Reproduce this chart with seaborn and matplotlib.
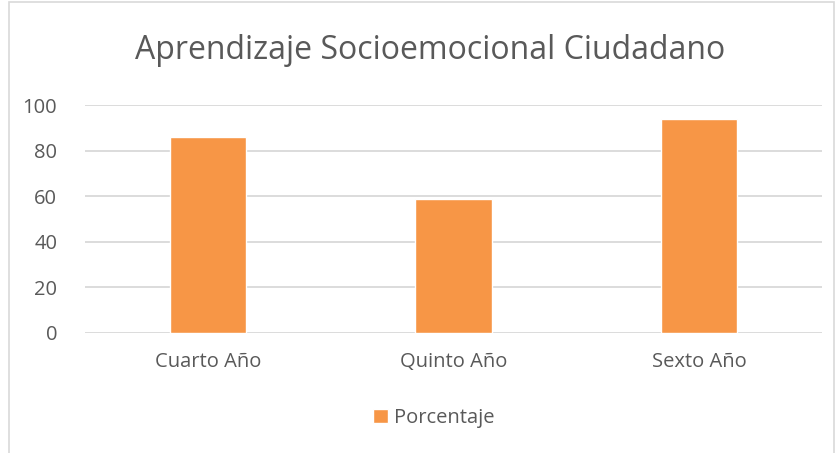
import matplotlib
matplotlib.use("Agg")
import matplotlib.pyplot as plt
import seaborn as sns
import pandas as pd
from matplotlib.patches import Rectangle, Patch

# data
categorias = ["Cuarto Año", "Quinto Año", "Sexto Año"]
porcentaje = [86, 59, 94]
serie = "Porcentaje"

df = pd.DataFrame({"Año": categorias, serie: porcentaje})

sns.set_theme(style="white")
plt.rcParams["font.family"] = ["Open Sans", "DejaVu Sans"]

gris = "#595959"
naranja = "#F79646"

fig = plt.figure(figsize=(8.38, 4.53), dpi=100)
ax = fig.add_axes([0.1014, 0.265, 0.8796, 0.503])

sns.barplot(data=df, x="Año", y=serie, color=naranja, width=0.31,
            saturation=1, ax=ax)

ax.set_ylim(0, 100)
ax.set_yticks(range(0, 101, 20))
ax.set_xlim(-0.5, 2.5)
ax.yaxis.grid(True, color="#D9D9D9", linewidth=1.3)
ax.set_axisbelow(True)
for s in ax.spines.values():
    s.set_visible(False)
ax.set_xlabel("")
ax.set_ylabel("")
ax.tick_params(axis="both", length=0, labelsize=14.5, colors=gris)
ax.tick_params(axis="x", pad=14)
ax.tick_params(axis="y", pad=20)

fig.text(0.513, 0.888, "Aprendizaje Socioemocional Ciudadano",
         ha="center", va="center", fontsize=23, color=gris)

fig.legend(handles=[Patch(facecolor=naranja, label=serie)],
           loc="center", bbox_to_anchor=(0.518, 0.077), frameon=False,
           fontsize=14.5, labelcolor=gris, handlelength=0.75,
           handleheight=0.75, handletextpad=0.3)

# chart border like the spreadsheet frame
fig.patches.append(Rectangle((0.0105, -0.01), 0.985, 1.005,
                             transform=fig.transFigure, fill=False,
                             edgecolor="#D9D9D9", linewidth=1.2))

fig.savefig("out.png", dpi=100, facecolor="white")
